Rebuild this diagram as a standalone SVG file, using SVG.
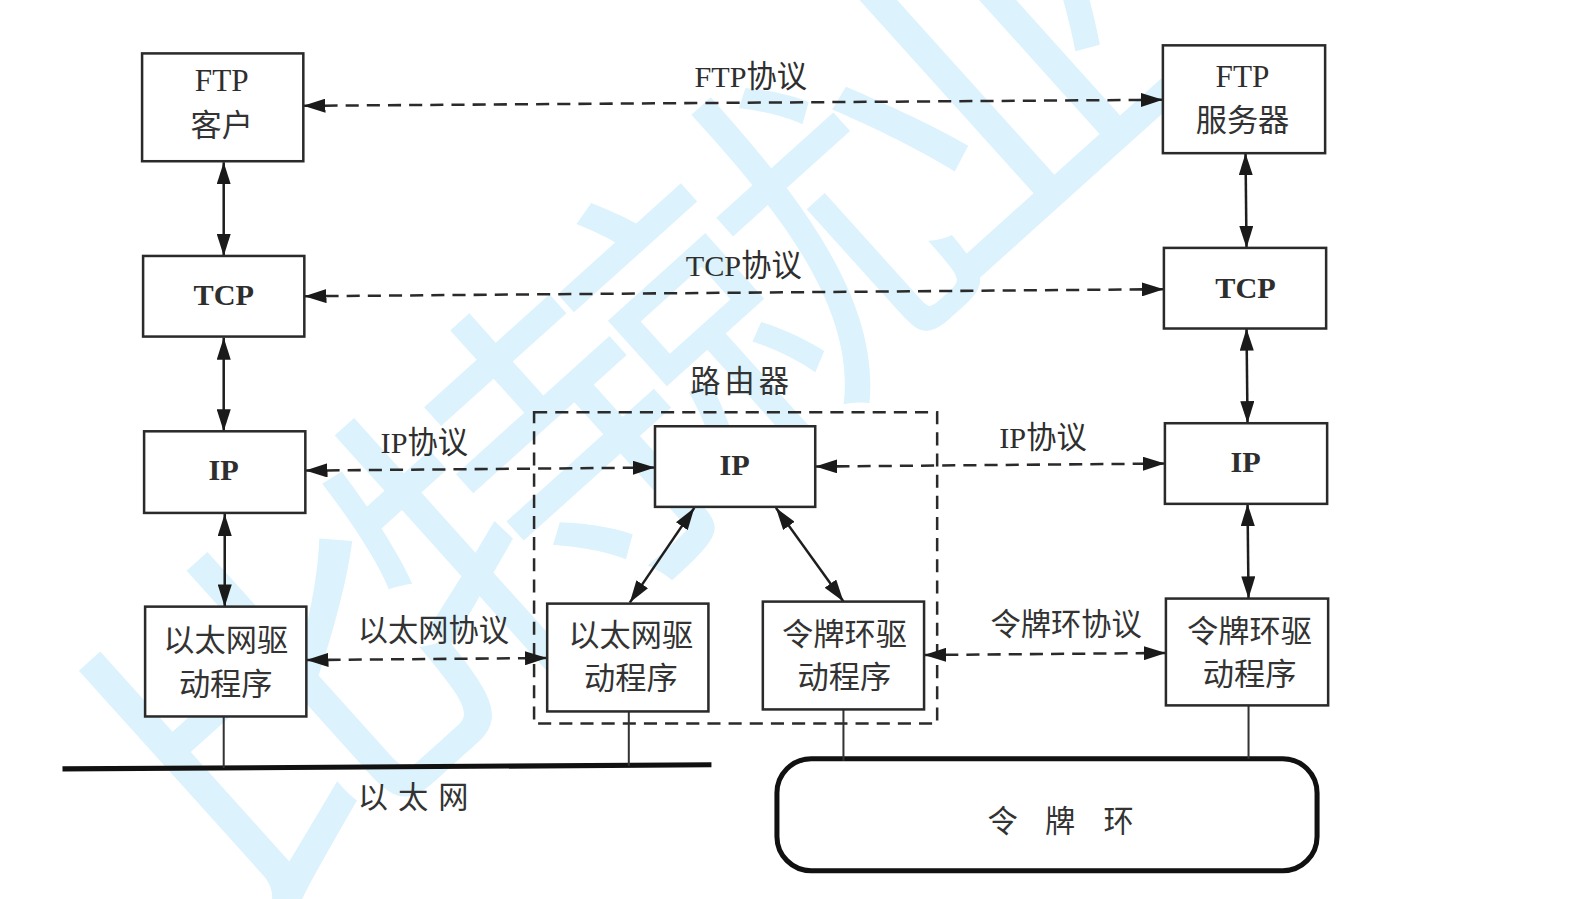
<svg xmlns="http://www.w3.org/2000/svg" width="1580" height="899" viewBox="0 0 1580 899">
  <style>
    .box { fill: #ffffff; stroke: #2a2a2a; stroke-width: 2.5; }
    .t { font-family: "Liberation Serif", "Noto Sans CJK SC", serif; fill: #2e2e2e; text-anchor: middle; }
    .cn { font-family: "Noto Sans CJK SC", "Liberation Serif", sans-serif; fill: #333333; text-anchor: middle; }
    .lbl { font-size: 30px; }
    .bt { font-size: 31px; }
    .bold { font-weight: bold; font-size: 30px; }
    .dash { fill: none; stroke: #2a2a2a; stroke-width: 2.5; stroke-dasharray: 13 8; }
    .solid { fill: none; stroke: #1e1e1e; stroke-width: 2.5; }
    .thin { fill: none; stroke: #333333; stroke-width: 2; }
    .wm { font-family: "Noto Sans CJK SC", sans-serif; font-weight: 400; font-size: 360px; fill: #dcf2fc; text-anchor: middle; }
  </style>
  <defs>
    <marker id="ah" viewBox="0 0 22 14" refX="22" refY="7" markerUnits="userSpaceOnUse" markerWidth="22" markerHeight="14" orient="auto-start-reverse">
      <path d="M0,0 L22,7 L0,14 z" fill="#1a1a1a"/>
    </marker>
  </defs>
  <rect width="1580" height="899" fill="#ffffff"/>

  <g transform="scale(1.0077)">
    <!-- watermark -->
    <g id="watermark">
      <text class="wm" transform="translate(620,395) rotate(-42)" x="0" y="137" letter-spacing="-45">比特就业</text>
    </g>

    <!-- ethernet segment and token ring -->
    <g id="ethernet">
      <line x1="62" y1="763" x2="706" y2="759" stroke="#111" stroke-width="5"/>
      <text class="cn lbl" x="370 410 450" y="802">以太网</text>
    </g>
    <g id="token-ring">
      <rect x="771" y="753" width="536" height="111" rx="34" fill="none" stroke="#111" stroke-width="5"/>
      <text class="cn lbl" x="995 1052 1110" y="826">令牌环</text>
    </g>

    <!-- router enclosure -->
    <g id="router">
      <rect x="530" y="409" width="400" height="309" fill="none" stroke="#2a2a2a" stroke-width="2.5" stroke-dasharray="13 8"/>
      <text class="cn lbl" x="700 734 768" y="389">路由器</text>
    </g>

    <!-- connectors -->
    <g id="connectors">
      <line class="dash" x1="301" y1="105" x2="1154" y2="99" marker-start="url(#ah)" marker-end="url(#ah)"/>
      <line class="dash" x1="302" y1="294" x2="1155" y2="287" marker-start="url(#ah)" marker-end="url(#ah)"/>
      <line class="dash" x1="303" y1="467" x2="650" y2="464" marker-start="url(#ah)" marker-end="url(#ah)"/>
      <line class="dash" x1="809" y1="463" x2="1156" y2="460" marker-start="url(#ah)" marker-end="url(#ah)"/>
      <line class="dash" x1="304" y1="655" x2="543" y2="653" marker-start="url(#ah)" marker-end="url(#ah)"/>
      <line class="dash" x1="917" y1="650" x2="1157" y2="648" marker-start="url(#ah)" marker-end="url(#ah)"/>

      <line class="solid" x1="222" y1="161" x2="222" y2="254" marker-start="url(#ah)" marker-end="url(#ah)"/>
      <line class="solid" x1="222" y1="335" x2="222" y2="428" marker-start="url(#ah)" marker-end="url(#ah)"/>
      <line class="solid" x1="223" y1="510" x2="223" y2="602" marker-start="url(#ah)" marker-end="url(#ah)"/>
      <line class="solid" x1="1236" y1="152" x2="1237" y2="246" marker-start="url(#ah)" marker-end="url(#ah)"/>
      <line class="solid" x1="1237" y1="326" x2="1238" y2="420" marker-start="url(#ah)" marker-end="url(#ah)"/>
      <line class="solid" x1="1238" y1="500" x2="1239" y2="594" marker-start="url(#ah)" marker-end="url(#ah)"/>

      <line class="solid" x1="689" y1="504" x2="625" y2="598" marker-start="url(#ah)" marker-end="url(#ah)"/>
      <line class="solid" x1="770" y1="504" x2="837" y2="597" marker-start="url(#ah)" marker-end="url(#ah)"/>

      <line class="thin" x1="222" y1="711" x2="222" y2="762"/>
      <line class="thin" x1="624" y1="706" x2="624" y2="760"/>
      <line class="thin" x1="837" y1="704" x2="837" y2="755"/>
      <line class="thin" x1="1239" y1="700" x2="1239" y2="753"/>
    </g>

    <!-- protocol labels -->
    <g id="labels">
      <text class="t lbl" x="745" y="86">FTP<tspan font-family="Noto Sans CJK SC, sans-serif">协议</tspan></text>
      <text class="t lbl" x="738" y="274">TCP<tspan font-family="Noto Sans CJK SC, sans-serif">协议</tspan></text>
      <text class="t lbl" x="421" y="450">IP<tspan font-family="Noto Sans CJK SC, sans-serif">协议</tspan></text>
      <text class="t lbl" x="1035" y="445">IP<tspan font-family="Noto Sans CJK SC, sans-serif">协议</tspan></text>
      <text class="cn lbl" x="430" y="636">以太网协议</text>
      <text class="cn lbl" x="1058" y="630">令牌环协议</text>
    </g>

    <!-- client host stack -->
    <g id="ftp-client">
      <rect class="box" x="141" y="53" width="160" height="107"/>
      <text class="t bt" x="220" y="90">FTP</text>
      <text class="cn bt" x="220" y="135">客户</text>
    </g>
    <g id="tcp-client">
      <rect class="box" x="142" y="254" width="160" height="80"/>
      <text class="t bold" x="222" y="303">TCP</text>
    </g>
    <g id="ip-client">
      <rect class="box" x="143" y="428" width="160" height="81"/>
      <text class="t bold" x="222" y="476">IP</text>
    </g>
    <g id="eth-driver-client">
      <rect class="box" x="144" y="602" width="160" height="109"/>
      <text class="cn bt" x="224" y="646">以太网驱</text>
      <text class="cn bt" x="224" y="690">动程序</text>
    </g>

    <!-- router stack -->
    <g id="ip-router">
      <rect class="box" x="650" y="423" width="159" height="80"/>
      <text class="t bold" x="729" y="471">IP</text>
    </g>
    <g id="eth-driver-router">
      <rect class="box" x="543" y="599" width="160" height="107"/>
      <text class="cn bt" x="626" y="641">以太网驱</text>
      <text class="cn bt" x="626" y="684">动程序</text>
    </g>
    <g id="tr-driver-router">
      <rect class="box" x="757" y="597" width="160" height="107"/>
      <text class="cn bt" x="838" y="640">令牌环驱</text>
      <text class="cn bt" x="838" y="683">动程序</text>
    </g>

    <!-- server host stack -->
    <g id="ftp-server">
      <rect class="box" x="1154" y="45" width="161" height="107"/>
      <text class="t bt" x="1233" y="86">FTP</text>
      <text class="cn bt" x="1233" y="130">服务器</text>
    </g>
    <g id="tcp-server">
      <rect class="box" x="1155" y="246" width="161" height="80"/>
      <text class="t bold" x="1236" y="296">TCP</text>
    </g>
    <g id="ip-server">
      <rect class="box" x="1156" y="420" width="161" height="80"/>
      <text class="t bold" x="1236" y="468">IP</text>
    </g>
    <g id="tr-driver-server">
      <rect class="box" x="1157" y="594" width="161" height="106"/>
      <text class="cn bt" x="1240" y="637">令牌环驱</text>
      <text class="cn bt" x="1240" y="680">动程序</text>
    </g>
  </g>
</svg>
